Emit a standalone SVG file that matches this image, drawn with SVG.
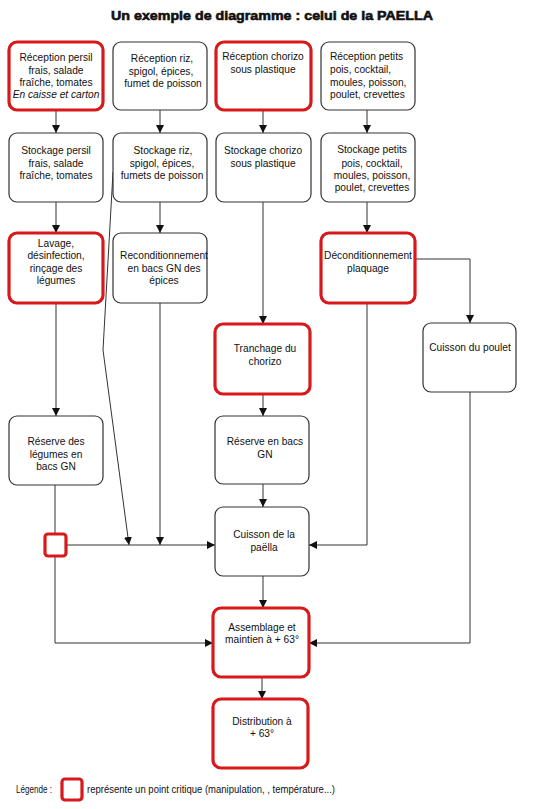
<svg xmlns="http://www.w3.org/2000/svg" width="550" height="809" viewBox="0 0 550 809">
<defs>
<marker id="ah" viewBox="0 0 10 10" refX="10" refY="5" markerWidth="8" markerHeight="8" markerUnits="userSpaceOnUse" orient="auto"><path d="M0,0 L10,5 L0,10 z" fill="#111"/></marker>
<style>
.n{fill:#fff;stroke:#333;stroke-width:1.2}
.c{fill:#fff;stroke:#d7191c;stroke-width:3.2}
text{font-family:"Liberation Sans",Arial,sans-serif;font-size:10.2px;fill:#111}
.m{text-anchor:middle}
.l{fill:none;stroke:#333;stroke-width:1}
.a{fill:none;stroke:#333;stroke-width:1;marker-end:url(#ah)}
</style>
</defs>
<rect width="550" height="809" fill="#fff"/>
<text x="272" y="20" class="m" style="font-size:13px;font-weight:900;stroke:#111;stroke-width:0.6" textLength="322" lengthAdjust="spacingAndGlyphs">Un exemple de diagramme : celui de la PAELLA</text>

<g id="connectors">
<path class="a" d="M56,110 V133"/>
<path class="a" d="M160,110 V133"/>
<path class="a" d="M263,110 V133"/>
<path class="a" d="M367,110 V133"/>
<path class="a" d="M56,202 V233"/>
<path class="a" d="M160,202 V233"/>
<path class="a" d="M263,202 V324"/>
<path class="a" d="M367,202 V233"/>
<path class="a" d="M415,259 H470 V323"/>
<path class="a" d="M56,303 V416"/>
<path class="a" d="M263,394 V416"/>
<path class="a" d="M263,484 V507"/>
<path class="l" d="M55,485 V534"/>
<path class="a" d="M113,172 L103,350 L129,545"/>
<path class="a" d="M160,303 V545"/>
<path class="a" d="M66,545 H215"/>
<path class="a" d="M367,303 V545 H309"/>
<path class="a" d="M263,576 V608"/>
<path class="a" d="M55,556 V643 H213"/>
<path class="a" d="M470,390 V643 H309"/>
<path class="a" d="M262,677 V699"/>
</g>

<g id="n1"><rect class="c" x="9" y="42" width="94" height="68" rx="8"/>
<text class="m" x="56" y="61">Réception persil</text><text class="m" x="56" y="73.5">frais, salade</text><text class="m" x="56" y="86">fraîche, tomates</text><text class="m" x="56" y="98" font-style="italic">En caisse et carton</text></g>
<g id="n2"><rect class="n" x="113" y="42" width="94" height="68" rx="8"/>
<text class="m" x="162" y="62">Réception riz,</text><text class="m" x="161" y="74.5">spigol, épices,</text><text class="m" x="163" y="87">fumet de poisson</text></g>
<g id="n3"><rect class="c" x="216" y="42" width="95" height="68" rx="8"/>
<text class="m" x="263" y="60">Réception chorizo</text><text class="m" x="263" y="73">sous plastique</text></g>
<g id="n4"><rect class="n" x="321" y="42" width="94" height="68" rx="8"/>
<text x="330" y="60">Réception petits</text><text x="330" y="73">pois, cocktail,</text><text x="330" y="86">moules, poisson,</text><text x="330" y="98">poulet, crevettes</text></g>

<g id="s1"><rect class="n" x="9" y="133" width="94" height="69" rx="8"/>
<text class="m" x="56" y="154">Stockage persil</text><text class="m" x="56" y="167">frais, salade</text><text class="m" x="56" y="179">fraîche, tomates</text></g>
<g id="s2"><rect class="n" x="113" y="133" width="94" height="69" rx="8"/>
<text class="m" x="163" y="154">Stockage riz,</text><text class="m" x="162" y="167">spigol, épices,</text><text class="m" x="162" y="179">fumets de poisson</text></g>
<g id="s3"><rect class="n" x="216" y="133" width="95" height="69" rx="8"/>
<text class="m" x="263" y="154">Stockage chorizo</text><text class="m" x="263" y="167">sous plastique</text></g>
<g id="s4"><rect class="n" x="321" y="133" width="94" height="69" rx="8"/>
<text class="m" x="372" y="153">Stockage petits</text><text class="m" x="372" y="167">pois, cocktail,</text><text class="m" x="372" y="179">moules, poisson,</text><text class="m" x="372" y="191">poulet, crevettes</text></g>

<g id="lavage"><rect class="c" x="9" y="233" width="94" height="70" rx="8"/>
<text class="m" x="56" y="247">Lavage,</text><text class="m" x="56" y="259">désinfection,</text><text class="m" x="56" y="272">rinçage des</text><text class="m" x="56" y="284">légumes</text></g>
<g id="recond"><rect class="n" x="113" y="233" width="94" height="70" rx="8"/>
<text class="m" x="164" y="259">Reconditionnement</text><text class="m" x="164" y="272">en bacs GN des</text><text class="m" x="164" y="284">épices</text></g>
<g id="decond"><rect class="c" x="321" y="233" width="94" height="70" rx="8"/>
<text class="m" x="368" y="259">Déconditionnement</text><text class="m" x="368" y="272">plaquage</text></g>

<g id="tranchage"><rect class="c" x="215" y="324" width="95" height="70" rx="8"/>
<text class="m" x="265" y="352">Tranchage du</text><text class="m" x="265" y="365">chorizo</text></g>
<g id="poulet"><rect class="n" x="423" y="323" width="93" height="69" rx="8"/>
<text class="m" x="470" y="351">Cuisson du poulet</text></g>

<g id="reserveleg"><rect class="n" x="9" y="416" width="94" height="69" rx="8"/>
<text class="m" x="56" y="445">Réserve des</text><text class="m" x="56" y="458">légumes en</text><text class="m" x="56" y="470">bacs GN</text></g>
<g id="reservebacs"><rect class="n" x="215" y="416" width="94" height="68" rx="8"/>
<text class="m" x="265" y="445">Réserve en bacs</text><text class="m" x="265" y="458">GN</text></g>

<g id="pc"><rect class="c" x="45" y="534" width="21" height="22" rx="3"/></g>

<g id="cuisson"><rect class="n" x="215" y="507" width="94" height="69" rx="8"/>
<text class="m" x="264" y="538">Cuisson de la</text><text class="m" x="264" y="551">paëlla</text></g>
<g id="assemblage"><rect class="c" x="213" y="608" width="96" height="69" rx="8"/>
<text class="m" x="262" y="631">Assemblage et</text><text class="m" x="262" y="643">maintien à + 63°</text></g>
<g id="distribution"><rect class="c" x="213" y="699" width="95" height="69" rx="8"/>
<text class="m" x="262" y="725">Distribution à</text><text class="m" x="262" y="737">+ 63°</text></g>

<g id="legende">
<text x="16" y="793" style="font-size:10px" textLength="36" lengthAdjust="spacingAndGlyphs">Légende :</text>
<rect class="c" x="62" y="779" width="20" height="21" rx="3"/>
<text x="87" y="793" style="font-size:10px" textLength="248" lengthAdjust="spacingAndGlyphs">représente un point critique (manipulation, , température...)</text>
</g>
</svg>
